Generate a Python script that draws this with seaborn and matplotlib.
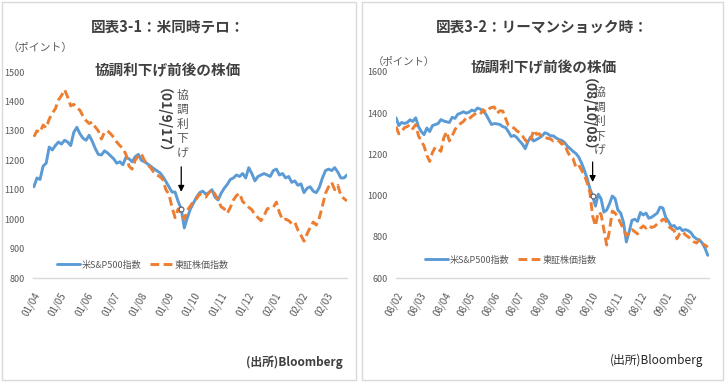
import pandas as pd
import seaborn as sns
import matplotlib.pyplot as plt
from matplotlib.patches import Rectangle

sns.set_theme(style='white')
plt.rcParams['font.family'] = ['Noto Sans CJK JP', 'DejaVu Sans']

BLUE = '#5B9BD5'
ORANGE = '#ED7D31'
GRAY = '#595959'
DARK = '#404040'
W, H = 728, 387
PT = 72 / 100  # pixels -> points

# --- 9.11 period (twice-weekly readings, from 2001/04) ---
sp500_2001 = [1110, 1140, 1135, 1180, 1190, 1245, 1235, 1250, 1262, 1255,
              1268, 1262, 1250, 1295, 1312, 1290, 1275, 1268, 1285, 1265,
              1240, 1220, 1218, 1232, 1225, 1215, 1205, 1190, 1195, 1185,
              1210, 1205, 1195, 1212, 1220, 1200, 1195, 1188, 1180, 1172,
              1165, 1158, 1145, 1128, 1110, 1092, 1092, 1060, 1035, 970,
              1005, 1035, 1055, 1075, 1090, 1095, 1085, 1090, 1100, 1075,
              1065, 1088, 1105, 1118, 1135, 1140, 1150, 1145, 1155, 1140,
              1175, 1155, 1130, 1145, 1150, 1155, 1150, 1145, 1165, 1170,
              1150, 1155, 1140, 1145, 1125, 1130, 1115, 1120, 1090, 1105,
              1110, 1095, 1090, 1108, 1140, 1165, 1170, 1165, 1175, 1160,
              1140, 1140, 1150]
topix_2001 = [1280, 1300, 1295, 1320, 1310, 1340, 1360, 1375, 1405, 1420,
              1440, 1415, 1385, 1390, 1378, 1370, 1350, 1335, 1325, 1330,
              1313, 1300, 1272, 1295, 1300, 1290, 1278, 1262, 1250, 1240,
              1220, 1180, 1170, 1200, 1215, 1222, 1200, 1185, 1175, 1160,
              1150, 1145, 1135, 1100, 1085, 1040, 1005, 1035, 1020, 1000,
              1030, 1045, 1060, 1070, 1085, 1080, 1075, 1090, 1100, 1085,
              1065, 1042, 1035, 1020, 1040, 1065, 1080, 1088, 1060, 1050,
              1040, 1032, 1015, 1005, 995, 1012, 1035, 1038, 1040, 1058,
              1022, 998, 1000, 995, 985, 990, 963, 945, 925, 950,
              972, 990, 980, 1005, 1045, 1088, 1110, 1125, 1100, 1115,
              1080, 1070, 1062]

# --- Lehman period (twice-weekly readings, from 2008/02) ---
sp500_2008 = [1378, 1340, 1355, 1350, 1355, 1368, 1360, 1378, 1335, 1311,
              1296, 1328, 1311, 1340, 1345, 1350, 1369, 1362, 1358, 1355,
              1380, 1375, 1395, 1400, 1407, 1400, 1405, 1415, 1410, 1425,
              1420, 1410, 1395, 1370, 1345, 1350, 1348, 1345, 1335, 1330,
              1311, 1287, 1292, 1282, 1265, 1250, 1228, 1263, 1285, 1265,
              1272, 1280, 1290, 1305, 1300, 1290, 1290, 1280, 1272, 1268,
              1258, 1240, 1228, 1215, 1205, 1188, 1160, 1125, 1085, 1035,
              998, 949, 1007, 985, 920, 930, 960, 998, 985, 930,
              915, 870, 775, 825, 880, 885, 875, 918, 906, 915,
              890, 895, 905, 915, 944, 940, 895, 875, 850, 855,
              838, 845, 830, 835, 830, 820, 800, 790, 785, 770,
              745, 710]
topix_2008 = [1335, 1300, 1310, 1330, 1335, 1345, 1325, 1345, 1290, 1265,
              1240, 1195, 1166, 1210, 1235, 1225, 1215, 1280, 1310, 1265,
              1290, 1320, 1340, 1350, 1360, 1378, 1372, 1385, 1395, 1400,
              1395, 1417, 1405, 1420, 1428, 1430, 1400, 1412, 1410, 1375,
              1340, 1335, 1328, 1315, 1305, 1290, 1270, 1255, 1270, 1318,
              1298, 1300, 1285, 1282, 1278, 1275, 1265, 1270, 1265, 1250,
              1255, 1215, 1190, 1180, 1140, 1150, 1125, 1100, 1065, 1017,
              901, 853, 920, 910, 835, 760, 830, 925, 915, 895,
              865, 838, 805, 820, 835, 825, 814, 840, 853, 842,
              855, 845, 850, 862, 870, 885, 880, 850, 840, 830,
              790, 815, 825, 810, 800, 790, 776, 770, 785, 766,
              760, 750]

dates_2001 = pd.date_range('2001-04-02', periods=len(sp500_2001), freq='84h')
dates_2008 = pd.date_range('2008-02-01', periods=len(sp500_2008), freq='84h')
ticks_2001 = pd.date_range('2001-04-01', '2002-03-01', freq='MS')
ticks_2008 = pd.date_range('2008-02-01', '2009-02-01', freq='MS')

labels = ['米S&P500指数', '東証株価指数']
ax_rect = lambda x0, x1: [x0 / W, 1 - 278 / H, (x1 - x0) / W, 206 / H]


def panel(ax, dates, sp, tp, ticks, xend, ylim, ystep, mark, cut_label,
          arrow_px, date_px, text_px, leg_anchor):
    sns.lineplot(x=dates, y=sp, ax=ax, color=BLUE, linewidth=2.1, label=labels[0])
    sns.lineplot(x=dates, y=tp, ax=ax, color=ORANGE, linewidth=2.1,
                 linestyle=(0, (3, 1.5)), label=labels[1])

    ax.set_xlim(ticks[0], pd.Timestamp(xend))
    ax.set_ylim(*ylim)
    ax.set_yticks(range(ylim[0], ylim[1] + 1, ystep))
    ax.set_xticks(ticks)
    ax.set_xticklabels([d.strftime('%y/%m') for d in ticks], rotation=60,
                       ha='right', rotation_mode='anchor')
    ax.tick_params(axis='x', length=0, pad=9, labelsize=7, labelcolor=GRAY)
    ax.tick_params(axis='y', length=0, pad=6, labelsize=6.5, labelcolor=GRAY)
    ax.set_xlabel('')
    ax.set_ylabel('')
    for s in ['left', 'right', 'top']:
        ax.spines[s].set_visible(False)
    ax.spines['bottom'].set_color('#d9d9d9')
    ax.spines['bottom'].set_linewidth(1)

    # marked date of the coordinated rate cut
    d, v = dates[mark], sp[mark]
    ax.plot([d], [v], 'o', ms=3.5, mfc='white', mec=GRAY, mew=0.8, zorder=5)
    gap, tail = arrow_px
    ax.annotate('', xy=(d, v), xytext=(0, tail * PT), textcoords='offset points',
                arrowprops=dict(arrowstyle='-|>', color='black', lw=0.9,
                                shrinkA=0, shrinkB=gap * PT, mutation_scale=9))
    ax.annotate(cut_label, xy=(d, v), textcoords='offset points',
                xytext=(date_px[0] * PT, date_px[1] * PT),
                rotation=-90, ha='center', va='center', fontsize=10,
                fontweight='bold', color=DARK)
    ax.annotate('\n'.join('協調利下げ'), xy=(d, v), textcoords='offset points',
                xytext=(text_px[0] * PT, text_px[1] * PT),
                ha='center', va='top', fontsize=8.5, color=GRAY, linespacing=1.15)

    ax.legend(loc='center', bbox_to_anchor=leg_anchor, ncol=2, frameon=False,
              fontsize=6.5, labelcolor=GRAY, handlelength=2.6,
              handletextpad=0.2, columnspacing=0.9)


fig = plt.figure(figsize=(W / 100, H / 100), dpi=100)
fig.patch.set_facecolor('white')

# panel frames
for x0, x1 in [(2, 356), (362, 723)]:
    fig.patches.append(Rectangle((x0 / W, 1 - 380 / H), (x1 - x0) / W, 378 / H,
                                 transform=fig.transFigure, fill=False,
                                 edgecolor='#d9d9d9', lw=1))

ax1 = fig.add_axes(ax_rect(33, 347))
panel(ax1, dates_2001, sp500_2001, topix_2001, ticks_2001, '2002-03-25',
      (800, 1500), 100, 48, '（01/9/17）', (17, 42), (-25, 81), (1, 120),
      (0.35, 0.063))

ax2 = fig.add_axes(ax_rect(396, 709))
panel(ax2, dates_2008, sp500_2008, topix_2008, ticks_2008, '2009-02-25',
      (600, 1600), 200, 70, '（08/10/08）', (14, 34), (-11, 74), (7, 110),
      (0.367, 0.087))


def ftext(x, y, s, **kw):
    fig.text(x / W, 1 - y / H, s, ha='center', va='center', **kw)


ftext(168, 27, '図表3-1：米同時テロ：', fontsize=10.5, fontweight='bold', color=DARK)
ftext(168, 70, '協調利下げ前後の株価', fontsize=10.5, fontweight='bold', color=DARK)
ftext(542, 27, '図表3-2：リーマンショック時：', fontsize=10.5, fontweight='bold', color=DARK)
ftext(544, 67, '協調利下げ前後の株価', fontsize=10.5, fontweight='bold', color=DARK)
ftext(40, 48, '（ポイント）', fontsize=7.8, color=GRAY)
ftext(404, 62, '（ポイント）', fontsize=7.5, color=GRAY)
ftext(294, 362, '(出所)Bloomberg', fontsize=8.5, fontweight='bold', color=DARK)
ftext(657, 360, '(出所)Bloomberg', fontsize=8.5, color='#262626')

fig.savefig('out.png', dpi=100)
